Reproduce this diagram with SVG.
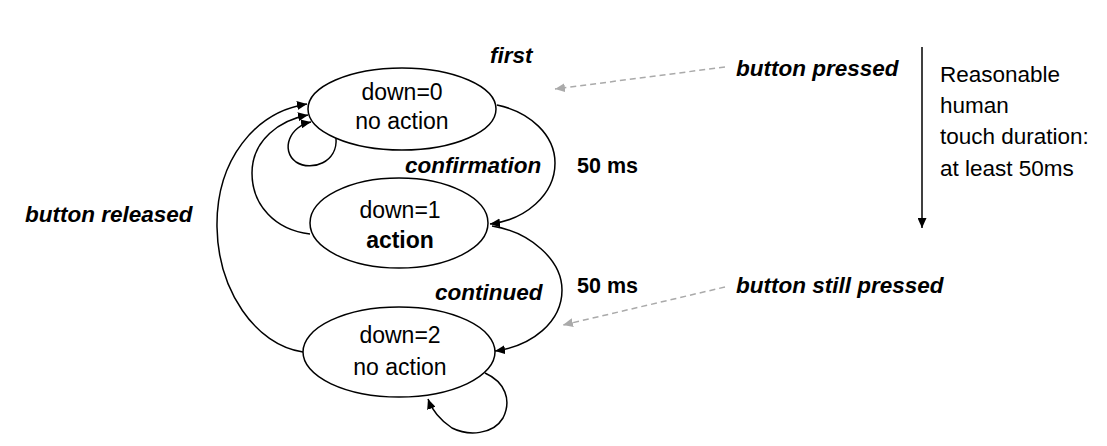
<svg xmlns="http://www.w3.org/2000/svg" width="1107" height="446" viewBox="0 0 1107 446">
<defs>
<marker id="ah" markerUnits="userSpaceOnUse" markerWidth="11" markerHeight="9" refX="10" refY="4.5" orient="auto">
<path d="M0,0 L10,4.5 L0,9 z" fill="#000"/>
</marker>
<marker id="ahg" markerUnits="userSpaceOnUse" markerWidth="11" markerHeight="9" refX="10" refY="4.5" orient="auto">
<path d="M0,0 L10,4.5 L0,9 z" fill="#aaaaaa"/>
</marker>
</defs>
<style>
.st{fill:#fff;stroke:#000;stroke-width:1.5}
.nt{font-family:"Liberation Sans",Arial,sans-serif;font-size:23px;fill:#000;text-anchor:middle}
.nb{font-weight:bold}
.lb{font-family:"Liberation Sans",Arial,sans-serif;font-size:22.5px;font-weight:bold;font-style:italic;fill:#000}
.ms{font-family:"Liberation Sans",Arial,sans-serif;font-size:21.5px;font-weight:bold;fill:#000}
.rt{font-family:"Liberation Sans",Arial,sans-serif;font-size:22.5px;fill:#000}
.c{fill:none;stroke:#000;stroke-width:1.5;marker-end:url(#ah)}
.g{fill:none;stroke:#aaaaaa;stroke-width:1.5;stroke-dasharray:6 4;marker-end:url(#ahg)}
</style>
<g id="connectors">
<path class="c" d="M303,352 C255,345 218,290 217,227 C216,160 255,112 307,104"/>
<path class="c" d="M310,234 C275,230 252,205 252,173 C252,140 280,120 308,115"/>
<path class="c" d="M336,138 C338,162 312,172 296,162 C280,150 290,126 311,122"/>
<path class="c" d="M497,105 C530,112 555,135 555,163 C555,195 525,220 490,224"/>
<path class="c" d="M492,226 C530,232 562,260 562,290 C562,322 532,346 495,351"/>
<path class="c" d="M485,373 C505,382 512,400 503,418 C493,435 468,436 452,428 C440,420 432,410 428,399"/>
<path class="g" d="M725,67 L555,89"/>
<path class="g" d="M725,287 L563,325"/>
<path class="c" d="M922,47 L922,228"/>
</g>
<g id="state0">
<ellipse class="st" cx="402" cy="109" rx="94" ry="41"/>
<text class="nt" x="402" y="100">down=0</text>
<text class="nt" x="402" y="129">no action</text>
</g>
<g id="state1">
<ellipse class="st" cx="399" cy="223" rx="89" ry="45"/>
<text class="nt" x="400" y="218">down=1</text>
<text class="nt nb" x="400" y="248">action</text>
</g>
<g id="state2">
<ellipse class="st" cx="399" cy="352" rx="96" ry="45"/>
<text class="nt" x="400" y="343">down=2</text>
<text class="nt" x="400" y="375">no action</text>
</g>
<g id="labels">
<text class="lb" x="490" y="63">first</text>
<text class="lb" x="405" y="173">confirmation</text>
<text class="lb" x="435" y="300">continued</text>
<text class="lb" x="25" y="222">button released</text>
<text class="ms" x="577" y="173">50 ms</text>
<text class="ms" x="577" y="293">50 ms</text>
<text class="lb" x="736" y="76">button pressed</text>
<text class="lb" x="736" y="293">button still pressed</text>
<text class="rt" x="940" y="82">Reasonable</text>
<text class="rt" x="940" y="113">human</text>
<text class="rt" x="940" y="144">touch duration:</text>
<text class="rt" x="940" y="176">at least 50ms</text>
</g>
</svg>
